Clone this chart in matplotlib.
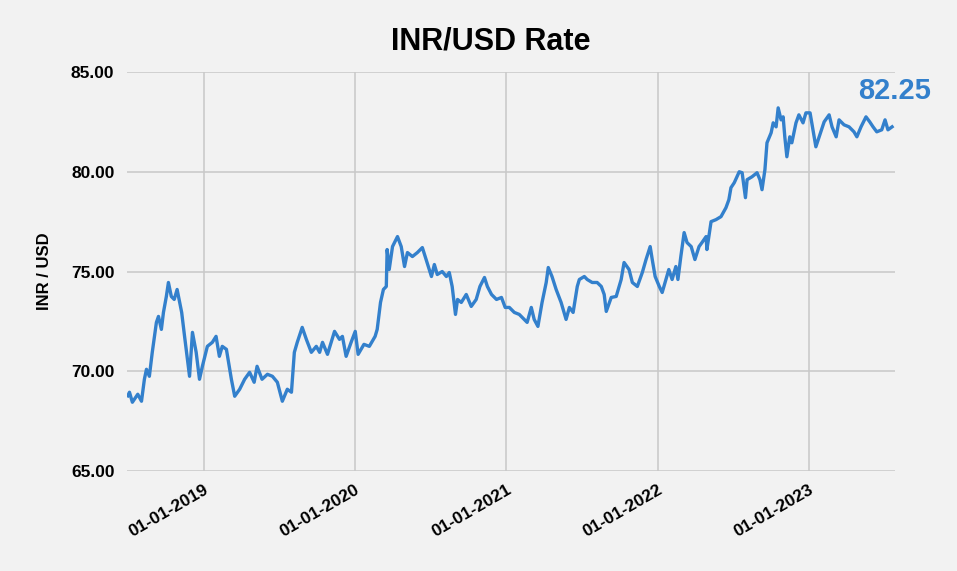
import numpy as np
import pandas as pd
import matplotlib
matplotlib.use("Agg")
import matplotlib.pyplot as plt
import matplotlib.dates as mdates

plt.rcParams['font.family'] = ['Liberation Sans', 'DejaVu Sans']

# INR/USD rate
dates = [
    "2018-07-02", "2018-07-06", "2018-07-13", "2018-07-26", "2018-08-04", "2018-08-11",
    "2018-08-16", "2018-08-23", "2018-08-30", "2018-09-09", "2018-09-14", "2018-09-21",
    "2018-09-26", "2018-10-03", "2018-10-08", "2018-10-15", "2018-10-22", "2018-10-29",
    "2018-11-09", "2018-11-16", "2018-11-28", "2018-12-05", "2018-12-14", "2018-12-22",
    "2018-12-29", "2019-01-10", "2019-01-22", "2019-01-31", "2019-02-08", "2019-02-15",
    "2019-02-25", "2019-03-09", "2019-03-17", "2019-03-29", "2019-04-10", "2019-04-22",
    "2019-05-03", "2019-05-10", "2019-05-22", "2019-06-04", "2019-06-16", "2019-06-28",
    "2019-07-10", "2019-07-22", "2019-08-01", "2019-08-08", "2019-08-15", "2019-08-27",
    "2019-09-06", "2019-09-18", "2019-09-30", "2019-10-08", "2019-10-15", "2019-10-27",
    "2019-11-13", "2019-11-25", "2019-12-02", "2019-12-11", "2019-12-23", "2020-01-02",
    "2020-01-09", "2020-01-23", "2020-02-05", "2020-02-19", "2020-02-24", "2020-03-03",
    "2020-03-10", "2020-03-17", "2020-03-19", "2020-03-24", "2020-04-01", "2020-04-13",
    "2020-04-22", "2020-04-30", "2020-05-07", "2020-05-19", "2020-05-31", "2020-06-12",
    "2020-06-24", "2020-07-04", "2020-07-11", "2020-07-18", "2020-07-30", "2020-08-09",
    "2020-08-16", "2020-08-23", "2020-08-31", "2020-09-05", "2020-09-14", "2020-09-26",
    "2020-10-08", "2020-10-20", "2020-10-29", "2020-11-09", "2020-11-16", "2020-11-26",
    "2020-12-08", "2020-12-20", "2020-12-29", "2021-01-08", "2021-01-20", "2021-02-01",
    "2021-02-13", "2021-02-20", "2021-03-02", "2021-03-09", "2021-03-18", "2021-03-28",
    "2021-04-07", "2021-04-12", "2021-04-21", "2021-05-01", "2021-05-13", "2021-05-25",
    "2021-06-02", "2021-06-11", "2021-06-21", "2021-06-26", "2021-07-08", "2021-07-15",
    "2021-07-27", "2021-08-08", "2021-08-18", "2021-08-25", "2021-08-30", "2021-09-11",
    "2021-09-23", "2021-10-05", "2021-10-12", "2021-10-24", "2021-11-01", "2021-11-13",
    "2021-11-25", "2021-12-04", "2021-12-14", "2021-12-19", "2021-12-26", "2022-01-05",
    "2022-01-12", "2022-01-21", "2022-01-28", "2022-02-05", "2022-02-14", "2022-02-19",
    "2022-02-26", "2022-03-06", "2022-03-13", "2022-03-23", "2022-04-01", "2022-04-11",
    "2022-04-18", "2022-04-28", "2022-04-30", "2022-05-10", "2022-05-22", "2022-06-03",
    "2022-06-15", "2022-06-22", "2022-06-27", "2022-07-05", "2022-07-17", "2022-07-24",
    "2022-08-01", "2022-08-05", "2022-08-17", "2022-08-29", "2022-09-05", "2022-09-10",
    "2022-09-17", "2022-09-22", "2022-10-02", "2022-10-07", "2022-10-14", "2022-10-19",
    "2022-10-26", "2022-10-31", "2022-11-04", "2022-11-09", "2022-11-16", "2022-11-21",
    "2022-12-01", "2022-12-08", "2022-12-18", "2022-12-25", "2023-01-04", "2023-01-11",
    "2023-01-18", "2023-01-26", "2023-02-07", "2023-02-19", "2023-02-26", "2023-03-08",
    "2023-03-15", "2023-03-27", "2023-04-08", "2023-04-20", "2023-04-27", "2023-05-07",
    "2023-05-19", "2023-05-28", "2023-06-05", "2023-06-14", "2023-06-26", "2023-07-04",
    "2023-07-11", "2023-07-21",
]
rates = [
    68.77, 68.95, 68.45, 68.85, 68.50, 69.60,
    70.10, 69.75, 70.95, 72.45, 72.75, 72.10,
    72.95, 73.75, 74.45, 73.75, 73.60, 74.10,
    72.95, 71.75, 69.75, 71.95, 70.95, 69.60,
    70.25, 71.25, 71.45, 71.75, 70.75, 71.25,
    71.10, 69.60, 68.75, 69.10, 69.60, 69.95,
    69.45, 70.25, 69.60, 69.85, 69.75, 69.45,
    68.50, 69.10, 68.95, 70.95, 71.45, 72.20,
    71.60, 70.95, 71.25, 70.95, 71.45, 70.85,
    72.00, 71.60, 71.75, 70.75, 71.45, 72.00,
    70.85, 71.35, 71.25, 71.75, 72.10, 73.45,
    74.10, 74.25, 76.10, 75.10, 76.25, 76.75,
    76.25, 75.25, 75.95, 75.75, 75.95, 76.20,
    75.40, 74.75, 75.35, 74.85, 75.00, 74.75,
    74.95, 74.25, 72.85, 73.60, 73.45, 73.85,
    73.25, 73.60, 74.25, 74.70, 74.25, 73.85,
    73.60, 73.70, 73.20, 73.20, 72.95, 72.85,
    72.60, 72.45, 73.20, 72.60, 72.25, 73.45,
    74.45, 75.20, 74.75, 74.10, 73.45, 72.60,
    73.20, 72.95, 74.25, 74.60, 74.75, 74.60,
    74.45, 74.45, 74.25, 73.85, 73.00, 73.70,
    73.75, 74.60, 75.45, 75.10, 74.45, 74.25,
    74.95, 75.60, 76.25, 75.60, 74.75, 74.25,
    73.95, 74.60, 75.10, 74.60, 75.25, 74.60,
    75.75, 76.95, 76.45, 76.25, 75.60, 76.25,
    76.45, 76.75, 76.10, 77.50, 77.60, 77.75,
    78.20, 78.60, 79.20, 79.45, 80.00, 79.95,
    78.70, 79.60, 79.75, 79.95, 79.60, 79.10,
    80.10, 81.45, 81.95, 82.45, 82.25, 83.20,
    82.60, 82.75, 81.75, 80.75, 81.75, 81.45,
    82.45, 82.85, 82.45, 82.95, 82.95, 82.10,
    81.25, 81.75, 82.50, 82.85, 82.25, 81.75,
    82.60, 82.35, 82.25, 82.00, 81.75, 82.25,
    82.75, 82.50, 82.25, 82.00, 82.10, 82.60,
    82.10, 82.25,
]
x_ticks = ["2019-01-01", "2020-01-01", "2021-01-01", "2022-01-01", "2023-01-01"]
y_ticks = [65, 70, 75, 80, 85]
x_range = ["2018-06-30", "2023-07-28"]

line_color = '#3380cc'
bg = '#f2f2f2'

df = pd.DataFrame({'date': pd.to_datetime(dates), 'rate': rates})

fig = plt.figure(figsize=(9.57, 5.71), dpi=100, facecolor=bg)
ax = fig.add_axes([0.1327, 0.175, 0.8025, 0.699])
ax.set_facecolor(bg)

ax.plot(df['date'], df['rate'], color=line_color, linewidth=2.4,
        solid_joinstyle='round', zorder=3)

ax.set_xlim(pd.to_datetime(x_range[0]), pd.to_datetime(x_range[1]))
ax.set_ylim(y_ticks[0], y_ticks[-1])
ax.set_yticks(y_ticks)
ax.set_yticklabels([f"{v:.2f}" for v in y_ticks])
ax.set_xticks(pd.to_datetime(x_ticks))
ax.xaxis.set_major_formatter(mdates.DateFormatter('%d-%m-%Y'))

ax.grid(True, color='#c8c8c8', linewidth=1.1, zorder=0)
for s in ax.spines.values():
    s.set_visible(False)
ax.tick_params(length=0)
ax.tick_params(axis='y', pad=9, labelsize=12.5)
ax.tick_params(axis='x', pad=8, labelsize=12.5)
for lbl in ax.get_yticklabels():
    lbl.set_fontweight('bold')
for lbl in ax.get_xticklabels():
    lbl.set_fontweight('bold')
    lbl.set_rotation(30)
    lbl.set_ha('right')
    lbl.set_rotation_mode('anchor')

ax.set_ylabel('INR / USD', fontsize=12, fontweight='bold', labelpad=14)
fig.text(491 / 957, 1 - 42 / 571, 'INR/USD Rate', ha='center', va='center',
         fontsize=22, fontweight='bold')

ax.annotate(f"{rates[-1]:.2f}", xy=(df['date'].iloc[-1], rates[-1]),
            xytext=(2, 26), textcoords='offset points', ha='center', va='center',
            fontsize=21, fontweight='bold', color=line_color)

fig.savefig('out.png', dpi=100, facecolor=bg)
